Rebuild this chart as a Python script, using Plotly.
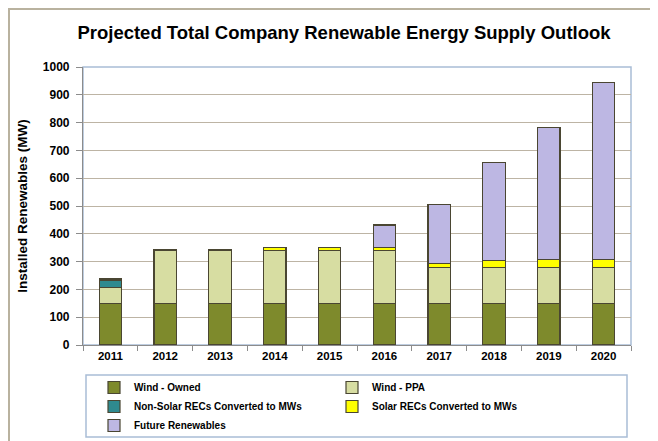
import plotly.graph_objects as go

years = ["2011", "2012", "2013", "2014", "2015", "2016", "2017", "2018", "2019", "2020"]
wind_owned = [150, 150, 150, 150, 150, 150, 150, 150, 150, 150]
wind_ppa = [56, 191, 191, 191, 191, 190, 130, 130, 130, 130]
non_solar_recs = [28, 0, 0, 0, 0, 0, 0, 0, 0, 0]
solar_recs = [4, 3, 3, 9, 9, 11, 13, 23, 28, 28]
future_renewables = [0, 0, 0, 0, 0, 81, 213, 354, 474, 636]

series = [
    ("Wind - Owned", wind_owned, "#7e8a2c"),
    ("Wind - PPA", wind_ppa, "#d7dda2"),
    ("Non-Solar RECs Converted to MWs", non_solar_recs, "#2f8a8f"),
    ("Solar RECs Converted to MWs", solar_recs, "#ffff00"),
    ("Future Renewables", future_renewables, "#bdb7e3"),
]

fig = go.Figure()
for name, vals, col in series:
    fig.add_trace(go.Bar(
        x=years, y=vals, name=name,
        marker=dict(color=col, line=dict(color="#4a4632", width=1.2)),
    ))

# page shows figure offset by 8px (body margin); positions below are screen px
OFF = 8
W, H = 658, 441
L = 83 - OFF
T = 67 - OFF
Rr = 631 - OFF
Bb = 345 - OFF
pw = Rr - L
ph = Bb - T

def px(xs):
    return (xs - OFF - L) / pw

def py(ys):
    return (Bb - (ys - OFF)) / ph

fig.update_layout(
    width=W, height=H,
    margin=dict(l=L, r=W - Rr, t=T, b=H - Bb, autoexpand=False),
    paper_bgcolor="white", plot_bgcolor="white",
    barmode="stack", bargap=0.59,
    font=dict(family="Liberation Sans, Arial, sans-serif", color="#000000"),
    title=dict(text="Projected Total Company Renewable Energy Supply Outlook",
               x=(344 - OFF) / W, xanchor="center", y=1 - (33 - OFF) / H, yanchor="middle",
               font=dict(size=18.5, color="#000000", weight="bold")),
    showlegend=True,
    legend=dict(orientation="h", traceorder="normal",
                x=px(94), xanchor="left", y=py(373), yanchor="top",
                entrywidth=193, entrywidthmode="pixels",
                font=dict(size=10, family="Liberation Sans, Arial", color="#000000", weight="bold"),
                bgcolor="rgba(0,0,0,0)", itemwidth=30),
    shapes=[
        dict(type="rect", xref="paper", yref="paper",
             x0=px(OFF + 1), x1=px(720), y0=py(520), y1=py(OFF + 1),
             line=dict(color="#b9b29f", width=2), fillcolor="rgba(0,0,0,0)", layer="below"),
        dict(type="rect", xref="paper", yref="paper",
             x0=0, x1=1, y0=0, y1=1,
             line=dict(color="#a9bdd6", width=1.5), fillcolor="rgba(0,0,0,0)", layer="below"),
        dict(type="rect", xref="paper", yref="paper",
             x0=px(86), x1=px(627), y0=py(437), y1=py(375),
             line=dict(color="#a9bdd6", width=1.5), fillcolor="rgba(0,0,0,0)"),
    ],
)

fig.update_xaxes(
    type="category", showgrid=False, showline=True, linecolor="#8c8c8c", linewidth=1.2,
    ticks="outside", tickson="boundaries", ticklen=5, tickcolor="#8c8c8c",
    tickfont=dict(size=11.5, family="Liberation Sans, Arial", color="#000000", weight="bold"),
)
fig.update_yaxes(
    range=[0, 1000], dtick=100, showgrid=True, gridcolor="#bdb4a4", gridwidth=1.2,
    showline=True, linecolor="#8c8c8c", linewidth=1.2,
    ticks="outside", ticklen=6, tickcolor="#8c8c8c", ticklabelstandoff=4,
    tickfont=dict(size=12, family="Liberation Sans, Arial", color="#000000", weight="bold"),
    title=dict(text="Installed Renewables (MW)", standoff=12,
               font=dict(size=13.5, family="Liberation Sans, Arial", color="#000000", weight="bold")),
    zeroline=False,
)

fig.write_html("out.html")
